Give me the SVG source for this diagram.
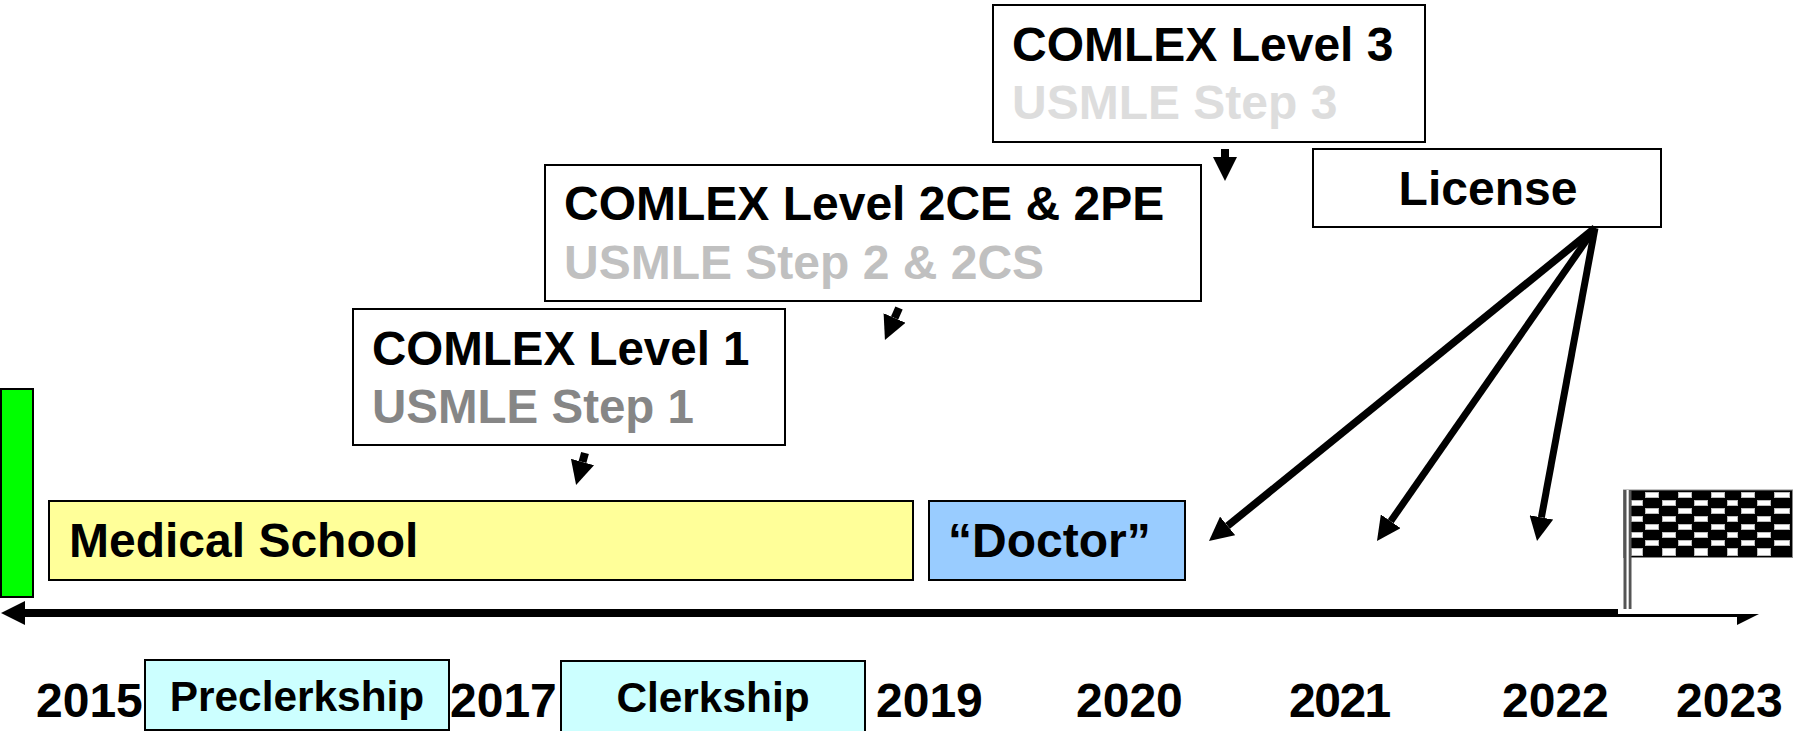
<svg xmlns="http://www.w3.org/2000/svg" width="1796" height="731" viewBox="0 0 1796 731">
<style>
text{font-family:"Liberation Sans",Arial,sans-serif;font-weight:700;fill:#000}
.t{font-size:48px}
.m{font-size:47.5px}
.y{font-size:48px}
.s{font-size:42.4px;text-anchor:middle}
.b{stroke:#000;stroke-width:2}
.c{stroke:#000;fill:none}
.w rect{fill:#fff;stroke:#bbb;stroke-width:1}
</style>
<defs>
<marker id="h" markerUnits="userSpaceOnUse" markerWidth="24" markerHeight="24" refX="0" refY="12" orient="auto"><path d="M0,0L24,12L0,24z"/></marker>
</defs>
<rect width="1796" height="731" fill="#fff"/>
<g id="start-bar"><rect class="b" x="1" y="389" width="32" height="208" fill="#0f0"/></g>
<g id="level3"><rect class="b" x="993" y="5" width="432" height="137" fill="#fff"/><text class="t" x="1012" y="61">COMLEX Level 3</text><text class="t" x="1012" y="119" style="fill:#ddd">USMLE Step 3</text></g>
<g id="level2"><rect class="b" x="545" y="165" width="656" height="136" fill="#fff"/><text class="t" x="564" y="220">COMLEX Level 2CE &amp; 2PE</text><text class="t" x="564" y="279" style="fill:#c0c0c0">USMLE Step 2 &amp; 2CS</text></g>
<g id="level1"><rect class="b" x="353" y="309" width="432" height="136" fill="#fff"/><text class="m" x="372" y="365">COMLEX Level 1</text><text class="m" x="372" y="423" style="fill:#868686">USMLE Step 1</text></g>
<g id="license"><rect class="b" x="1313" y="149" width="348" height="78" fill="#fff"/><text class="t" x="1488" y="205" text-anchor="middle">License</text></g>
<g id="medical-school"><rect class="b" x="49" y="501" width="864" height="79" fill="#ff9"/><text class="t" x="69" y="557">Medical School</text></g>
<g id="doctor"><rect class="b" x="929" y="501" width="256" height="79" fill="#9cf"/><text class="t" x="948" y="557">“Doctor”</text></g>
<g id="preclerkship"><rect class="b" x="145" y="660" width="304" height="70" fill="#cff"/><text class="s" x="297" y="711">Preclerkship</text></g>
<g id="clerkship"><rect class="b" x="561" y="661" width="304" height="74" fill="#cff"/><text class="s" x="713" y="712">Clerkship</text></g>
<g id="years">
<text class="y" x="36" y="717">2015</text><text class="y" x="450" y="717">2017</text><text class="y" x="876" y="717">2019</text><text class="y" x="1076" y="717">2020</text><text class="y" x="1289" y="717" letter-spacing="-1.5">2021</text><text class="y" x="1502" y="717">2022</text><text class="y" x="1676" y="717">2023</text>
</g>
<g id="flag">
<rect x="1623.5" y="490" width="169" height="67.5" fill="#000" stroke="#888" stroke-width="1"/>
<g class="w">
<rect x="1645.5" y="492.5" width="13" height="5"/><rect x="1678.5" y="492.5" width="13" height="5"/><rect x="1711.5" y="492.5" width="13" height="5"/><rect x="1741.5" y="492.5" width="13" height="5"/><rect x="1774.5" y="492.5" width="15" height="5"/>
<rect x="1631.5" y="500.5" width="11" height="5"/><rect x="1662.5" y="500.5" width="13" height="5"/><rect x="1694.5" y="500.5" width="13" height="5"/><rect x="1727.5" y="500.5" width="10" height="5"/><rect x="1757.5" y="500.5" width="13" height="5"/>
<rect x="1645.5" y="508.5" width="13" height="5"/><rect x="1678.5" y="508.5" width="13" height="5"/><rect x="1711.5" y="508.5" width="13" height="5"/><rect x="1741.5" y="508.5" width="13" height="5"/><rect x="1774.5" y="508.5" width="15" height="5"/>
<rect x="1631.5" y="516.5" width="11" height="5"/><rect x="1662.5" y="516.5" width="13" height="5"/><rect x="1694.5" y="516.5" width="13" height="5"/><rect x="1727.5" y="516.5" width="10" height="5"/><rect x="1757.5" y="516.5" width="13" height="5"/>
<rect x="1645.5" y="524.5" width="13" height="5"/><rect x="1678.5" y="524.5" width="13" height="5"/><rect x="1711.5" y="524.5" width="13" height="5"/><rect x="1741.5" y="524.5" width="13" height="5"/><rect x="1774.5" y="524.5" width="15" height="5"/>
<rect x="1631.5" y="532.5" width="11" height="5"/><rect x="1662.5" y="532.5" width="13" height="5"/><rect x="1694.5" y="532.5" width="13" height="5"/><rect x="1727.5" y="532.5" width="10" height="5"/><rect x="1757.5" y="532.5" width="13" height="5"/>
<rect x="1645.5" y="540.5" width="13" height="5"/><rect x="1678.5" y="540.5" width="13" height="5"/><rect x="1711.5" y="540.5" width="13" height="5"/><rect x="1741.5" y="540.5" width="13" height="5"/><rect x="1774.5" y="540.5" width="15" height="5"/>
<rect x="1631.5" y="548.5" width="11" height="7"/><rect x="1662.5" y="548.5" width="13" height="7"/><rect x="1694.5" y="548.5" width="13" height="7"/><rect x="1727.5" y="548.5" width="10" height="7"/><rect x="1757.5" y="548.5" width="13" height="7"/>
</g>
<rect x="1623.5" y="490" width="8" height="119" fill="#555"/>
<rect x="1626.5" y="490" width="2.2" height="119" fill="#fff"/>
</g>
<g id="connectors">
<line class="c" x1="1618" y1="613" x2="25" y2="613" stroke-width="8" marker-end="url(#h)"/>
<path d="M1618,614H1737V617H1618zM1737,614H1759L1737,625z" fill="#000"/>
<line class="c" x1="1225" y1="149" x2="1225" y2="157" stroke-width="8" marker-end="url(#h)"/>
<line class="c" x1="899" y1="308" x2="894.6" y2="318" stroke-width="8" marker-end="url(#h)"/>
<line class="c" x1="585" y1="453" x2="582.5" y2="462" stroke-width="8" marker-end="url(#h)"/>
<line class="c" x1="1595" y1="228" x2="1227.6" y2="525.9" stroke-width="7.5" marker-end="url(#h)"/>
<line class="c" x1="1595" y1="228" x2="1390.7" y2="521.3" stroke-width="7" marker-end="url(#h)"/>
<line class="c" x1="1595" y1="228" x2="1541.4" y2="517.4" stroke-width="7" marker-end="url(#h)"/>
</g>
</svg>
